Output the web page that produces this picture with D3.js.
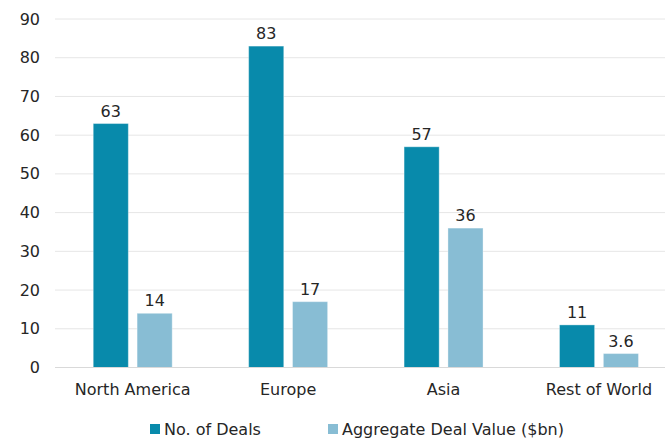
<!DOCTYPE html>
<html><head><meta charset="utf-8">
<script src="https://cdn.jsdelivr.net/npm/d3@7"></script>
<style>body{margin:0;background:#fff}svg{display:block}text{font-family:"DejaVu Sans",sans-serif;fill:#262626}</style>
</head><body><svg id="c" width="665" height="441"></svg>
<script>
const categories = ["North America", "Europe", "Asia", "Rest of World"];
const seriesNames = ["No. of Deals", "Aggregate Deal Value ($bn)"];
const deals = [63, 83, 57, 11];
const values = [14, 17, 36, 3.6];
const valueLabels = ["14", "17", "36", "3.6"];
const yTicks = [0, 10, 20, 30, 40, 50, 60, 70, 80, 90];
const colors = ["#088aab", "#88bdd4"];

const svg = d3.select("#c");
const x = d3.scaleBand().domain(categories).range([55, 676.7]).paddingInner(0).paddingOuter(0);
const y = d3.scaleLinear().domain([0, 90]).range([367.5, 19]);
const inner = d3.scaleBand().domain([0, 1]).range([x.bandwidth() * 0.246, x.bandwidth() * 0.754]).paddingInner(0.2);

svg.append("g").selectAll("line").data(yTicks.slice(1)).join("line")
  .attr("x1", 55).attr("x2", 665).attr("y1", d => y(d)).attr("y2", d => y(d))
  .attr("stroke", "#e6e6e6").attr("stroke-width", 1);

svg.append("g").selectAll("text").data(yTicks).join("text")
  .attr("x", 40).attr("y", d => y(d)).attr("dy", "0.35em").attr("text-anchor", "end")
  .attr("font-size", 16).text(d => d);

const data = [deals, values];
const labels = [deals.map(String), valueLabels];
data.forEach((arr, s) => {
  const g = svg.append("g");
  g.selectAll("rect").data(arr).join("rect")
    .attr("x", (d, i) => x(categories[i]) + inner(s))
    .attr("width", inner.bandwidth())
    .attr("y", d => y(d)).attr("height", d => y(0) - y(d))
    .attr("fill", colors[s]).attr("stroke", "#ffffff").attr("stroke-opacity", 0.35).attr("stroke-width", 1);
  g.selectAll("text").data(arr).join("text")
    .attr("x", (d, i) => x(categories[i]) + inner(s) + inner.bandwidth() / 2)
    .attr("y", d => y(d) - 7).attr("text-anchor", "middle").attr("font-size", 16)
    .text((d, i) => labels[s][i]);
});

svg.append("line").attr("x1", 55).attr("x2", 665).attr("y1", y(0)).attr("y2", y(0))
  .attr("stroke", "#d9d9d9").attr("stroke-width", 1);

svg.append("g").selectAll("text").data(categories).join("text")
  .attr("x", d => x(d) + x.bandwidth() / 2).attr("y", 395).attr("text-anchor", "middle")
  .attr("font-size", 16).text(d => d);

const legX = [150, 328];
const leg = svg.append("g");
seriesNames.forEach((n, i) => {
  leg.append("rect").attr("x", legX[i]).attr("y", 424).attr("width", 10).attr("height", 10).attr("fill", colors[i]);
  leg.append("text").attr("x", legX[i] + 14).attr("y", 429).attr("dy", "0.35em").attr("font-size", 16).text(n);
});
</script></body></html>
